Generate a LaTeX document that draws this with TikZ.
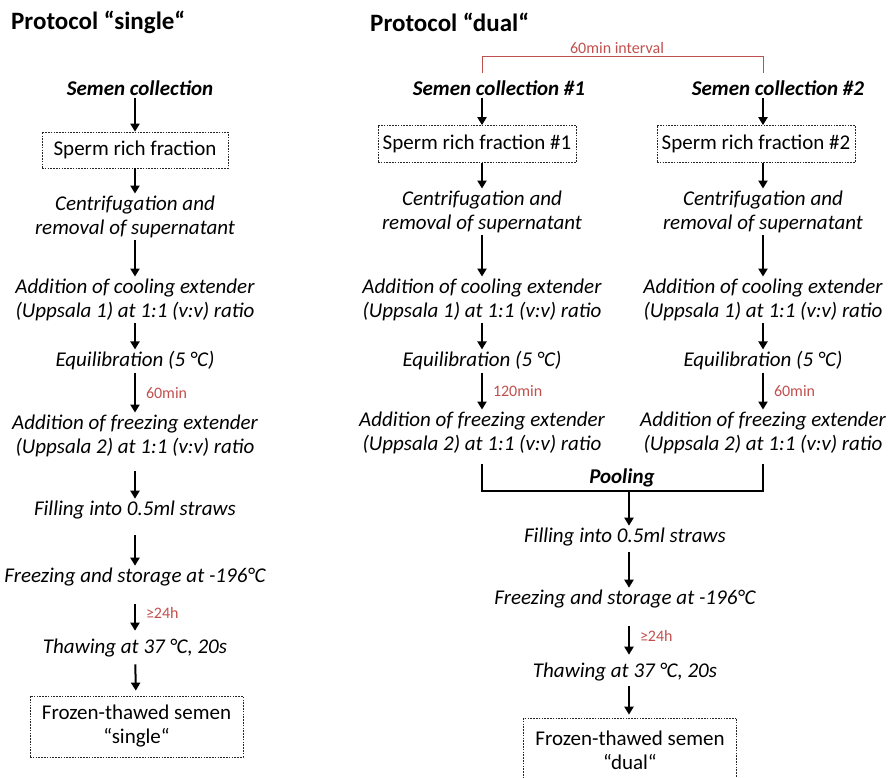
\documentclass[tikz,border=0pt]{standalone}
\usepackage{fontspec}
\setmainfont{Carlito}
\usetikzlibrary{arrows.meta,positioning}
\definecolor{timered}{RGB}{192,80,77}

\begin{document}
\begin{tikzpicture}[x=1pt, y=-1pt, >={Triangle[width=9pt,length=8pt]},
	stepnode/.style={font=\fontsize{21}{24.5}\selectfont\itshape, align=center, inner sep=2pt},
	headnode/.style={font=\fontsize{21}{24}\selectfont\bfseries\itshape, inner sep=2pt},
	titlenode/.style={font=\fontsize{25}{28}\selectfont\bfseries, anchor=west, inner sep=0pt},
	samplebox/.style={draw=black!85, line width=0.7pt, dash pattern=on 1.6pt off 1.2pt, font=\fontsize{21}{24}\selectfont, align=center, inner sep=0pt},
	flow/.style={->, line width=2pt},
	pool/.style={line width=2pt},
	interval/.style={draw=timered, line width=0.8pt},
	timing/.style={font=\fontsize{16}{18}\selectfont, text=timered, anchor=west, inner sep=0pt, xshift=10pt}]
	\useasboundingbox (0,0) rectangle (894,778);
	% protocol single
	\node[titlenode] (tsingle) at (11,22) {Protocol “single“};
	\node[headnode] (sc) at (140,88) {Semen collection};
	\node[samplebox, minimum width=186pt, minimum height=36pt] (srf) at (135,150) {Sperm rich fraction};
	\node[stepnode] (cen) at (135,217) {Centrifugation and\\removal of supernatant};
	\node[stepnode] (cool) at (135,300) {Addition of cooling extender\\(Uppsala 1) at 1:1 (v:v) ratio};
	\node[stepnode] (equi) at (135,361) {Equilibration (5 °C)};
	\node[stepnode] (frz) at (135,436) {Addition of freezing extender\\(Uppsala 2) at 1:1 (v:v) ratio};
	\node[stepnode] (fill) at (135,510) {Filling into 0.5ml straws};
	\node[stepnode] (store) at (135,577) {Freezing and storage at -196°C};
	\node[stepnode] (thaw) at (135,648) {Thawing at 37 °C, 20s};
	\node[samplebox, minimum width=213pt, minimum height=61pt] (fts) at (136.5,726.5) {Frozen-thawed semen\\“single“};
	\draw[flow] (sc.south -| srf) -- (srf);
	\draw[flow] (srf) -- (cen);
	\draw[flow] (cen) -- (cool);
	\draw[flow] (cool) -- (equi);
	\draw[flow] (equi) -- node[timing]{60min} (frz);
	\draw[flow, shorten <=12pt] (frz) -- (fill);
	\draw[flow, shorten <=14pt] (fill) -- (store);
	\draw[flow, shorten <=16pt, shorten >=6pt] (store) -- node[timing]{≥24h} (thaw);
	\draw[flow, shorten <=5pt, shorten >=5pt] (thaw) -- (fts);
	% protocol dual
	\coordinate (colA) at (482,0);
	\coordinate (colB) at (763,0);
	\coordinate (colD) at (629,0);
	\node[titlenode] (tdual) at (370,22) {Protocol “dual“};
	\node[headnode] (scA) at (499,88) {Semen collection \#1};
	\node[headnode] (scB) at (778,88) {Semen collection \#2};
	\node[samplebox, minimum width=198pt, minimum height=37pt] (srfA) at (477,144) {Sperm rich fraction \#1};
	\node[samplebox, minimum width=198pt, minimum height=37pt] (srfB) at (756,144) {Sperm rich fraction \#2};
	\node[stepnode] (cenA) at (482,212) {Centrifugation and\\removal of supernatant};
	\node[stepnode] (cenB) at (763,212) {Centrifugation and\\removal of supernatant};
	\node[stepnode] (coolA) at (482,300) {Addition of cooling extender\\(Uppsala 1) at 1:1 (v:v) ratio};
	\node[stepnode] (coolB) at (763,300) {Addition of cooling extender\\(Uppsala 1) at 1:1 (v:v) ratio};
	\node[stepnode] (equiA) at (482,361) {Equilibration (5 °C)};
	\node[stepnode] (equiB) at (763,361) {Equilibration (5 °C)};
	\node[stepnode] (frzA) at (482,433) {Addition of freezing extender\\(Uppsala 2) at 1:1 (v:v) ratio};
	\node[stepnode] (frzB) at (763,433) {Addition of freezing extender\\(Uppsala 2) at 1:1 (v:v) ratio};
	\node[headnode] (pooling) at (622,478) {Pooling};
	\coordinate (poolmid) at (629,491);
	\node[stepnode] (fillD) at (625,537) {Filling into 0.5ml straws};
	\node[stepnode] (storeD) at (625,599) {Freezing and storage at -196°C};
	\node[stepnode] (thawD) at (625,672) {Thawing at 37 °C, 20s};
	\node[samplebox, minimum width=213pt, minimum height=64pt] (ftd) at (630,750) {Frozen-thawed semen\\“dual“};
	\draw[interval] ([yshift=5pt]scA.north -| colA) -- ++(0,-17) coordinate (gapA) -| ([yshift=5pt]scB.north -| colB);
	\node[timing, anchor=south, xshift=0pt, yshift=3pt] (gap) at ([xshift=125pt]gapA) {60min interval};
	\draw[flow] (scA.south -| colA) -- (srfA.north -| colA);
	\draw[flow] (scB.south -| colB) -- (srfB.north -| colB);
	\draw[flow] (srfA.south -| colA) -- (cenA);
	\draw[flow] (srfB.south -| colB) -- (cenB);
	\draw[flow] (cenA) -- (coolA);
	\draw[flow] (cenB) -- (coolB);
	\draw[flow] (coolA) -- (equiA);
	\draw[flow] (coolB) -- (equiB);
	\draw[flow] (equiA) -- node[timing]{120min} (frzA);
	\draw[flow] (equiB) -- node[timing]{60min} (frzB);
	\draw[pool] ([yshift=-8pt]frzA.south) |- (poolmid) -| ([yshift=-8pt]frzB.south);
	\draw[flow] (poolmid) -- (fillD.north -| colD);
	\draw[flow, shorten <=4pt] (fillD.south -| colD) -- (storeD.north -| colD);
	\draw[flow, shorten <=16pt, shorten >=6pt] (storeD.south -| colD) -- node[timing]{≥24h} (thawD.north -| colD);
	\draw[flow, shorten <=3pt, shorten >=3pt] (thawD.south -| colD) -- (ftd.north -| colD);
\end{tikzpicture}
\end{document}
